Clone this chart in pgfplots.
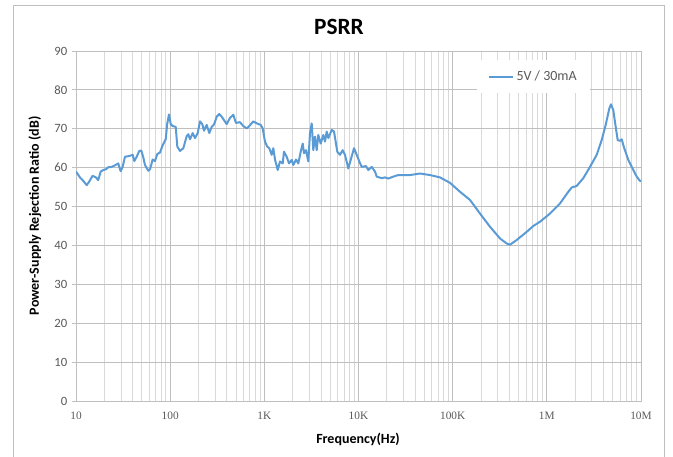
\documentclass[border=0pt]{standalone}
\usepackage{pgfplots}
\pgfplotsset{compat=1.18}
\usepackage{fontspec}
\setmainfont{Carlito}
\newfontfamily\serifx{Liberation Serif}
\definecolor{lineblue}{HTML}{5B9BD5}
\definecolor{txtgray}{HTML}{595959}
\definecolor{majgrid}{HTML}{BFBFBF}
\definecolor{mingrid}{HTML}{D9D9D9}
\begin{document}
\begin{tikzpicture}[x=1pt,y=1pt]
\useasboundingbox (0,0) rectangle (504.75,342);
\begin{axis}[
  at={(57pt,41.25pt)}, anchor=south west,
  scale only axis, width=423.75pt, height=262.5pt,
  xmode=log, xmin=10, xmax=1e7, ymin=0, ymax=90,
  xtick={10,100,1000,10000,100000,1000000,10000000},
  xticklabels={10,100,1K,10K,100K,1M,10M},
  ytick={0,10,...,90},
  /pgf/number format/assume math mode=true,
  xticklabel style={font=\serifx\fontsize{8.5}{10}\selectfont, text=txtgray, yshift=-2pt},
  yticklabel style={font=\fontsize{9.5}{11}\selectfont, text=txtgray},
  xmajorgrids, xminorgrids, ymajorgrids,
  major grid style={majgrid, line width=0.75pt},
  minor grid style={mingrid, line width=0.6pt},
  axis line style={majgrid, line width=0.75pt},
  xtick style={draw=none}, minor x tick style={draw=none},
  ytick style={majgrid, line width=0.75pt},
  ytick pos=left, tick align=outside, major tick length=3pt,
  title={PSRR},
  title style={at={(0.4655,1.0457)}, anchor=center, font=\bfseries\fontsize{17.5}{19}\selectfont, text=black},
  xlabel={Frequency(Hz)},
  xlabel style={at={(0.4991,-0.111)}, anchor=center, font=\bfseries\fontsize{10.5}{12}\selectfont, text=black},
  ylabel={Power-Supply Rejection Ratio (dB)},
  ylabel style={at={(-0.0726,0.529)}, anchor=center, rotate=0, font=\bfseries\fontsize{10.5}{12}\selectfont, text=black},
  legend style={at={(0.81,0.927)}, anchor=center, draw=none, fill=white,
    font=\fontsize{10.5}{12}\selectfont, text=txtgray, inner xsep=8pt, inner ysep=6pt},
  legend cell align=left,
  legend image code/.code={\draw[#1] (0pt,0pt) -- (18pt,0pt);},
]
\addplot[lineblue, line width=1.5pt, line join=round] table[row sep=\\] {
x y\\
10 59.0\\
11.0 57.5\\
11.95 56.6\\
13.0 55.5\\
13.8 56.4\\
15.0 57.9\\
16.3 57.5\\
17.2 56.8\\
18.3 59.0\\
19.5 59.4\\
20.8 59.6\\
22.0 60.1\\
23.9 60.2\\
25.9 60.6\\
28.1 61.1\\
29.8 59.1\\
31.3 60.2\\
33.1 62.8\\
36.8 63.0\\
40.0 63.3\\
41.6 61.7\\
44.1 62.8\\
47.0 64.3\\
49.4 64.4\\
51.8 62.7\\
54.0 60.7\\
58.6 59.2\\
61.1 59.6\\
65.2 62.1\\
69.0 61.7\\
73.0 63.5\\
78.0 63.9\\
83.3 65.8\\
89.7 67.3\\
93.2 71.4\\
97.2 73.7\\
101.3 71.2\\
106.4 70.7\\
114.5 70.5\\
119.1 65.4\\
127.2 64.3\\
137.9 65.0\\
149.8 68.1\\
155.8 68.6\\
162.4 67.3\\
173.5 68.9\\
183.5 67.6\\
196.0 68.9\\
207.4 71.9\\
219.4 71.2\\
228.7 69.5\\
244.3 71.0\\
260.3 68.9\\
276.1 70.5\\
292.1 71.1\\
311.9 73.1\\
332.4 73.8\\
352.5 73.1\\
398.4 71.2\\
431.8 72.8\\
468.1 73.6\\
500.1 71.5\\
551.3 71.7\\
597.9 70.7\\
649.6 70.1\\
692.2 70.7\\
763.6 71.9\\
829.8 71.4\\
915.3 71.0\\
960.7 70.1\\
1016 66.7\\
1075 65.4\\
1129 65.0\\
1197 63.3\\
1245 65.0\\
1298 62.1\\
1387 59.4\\
1467 61.6\\
1567 61.1\\
1618 64.1\\
1728 62.8\\
1828 61.1\\
1953 62.0\\
2030 60.7\\
2169 62.1\\
2295 61.1\\
2434 64.1\\
2556 66.2\\
2638 63.7\\
2770 64.5\\
2931 61.6\\
3054 68.9\\
3184 71.4\\
3311 64.5\\
3452 68.0\\
3599 64.5\\
3742 68.4\\
3967 66.2\\
4229 68.4\\
4408 66.7\\
4595 69.3\\
4779 67.6\\
5193 69.7\\
5493 69.3\\
5955 64.1\\
6361 63.3\\
6795 64.5\\
7189 63.3\\
7792 59.8\\
8264 62.0\\
8958 65.0\\
9570 63.3\\
10196 61.6\\
10815 60.2\\
12010 60.4\\
12710 59.4\\
13810 60.2\\
14970 59.0\\
15610 57.7\\
17640 57.3\\
19120 57.5\\
20730 57.2\\
23420 57.7\\
26470 58.1\\
35230 58.1\\
44980 58.5\\
57430 58.1\\
73340 57.5\\
93670 56.1\\
119600 53.8\\
152800 51.7\\
195100 48.2\\
249100 44.8\\
318100 41.8\\
374800 40.5\\
406300 40.2\\
478600 41.4\\
611100 43.5\\
718100 45.0\\
845900 46.1\\
1080000 48.2\\
1379000 50.8\\
1690000 53.8\\
1837000 54.9\\
2075000 55.3\\
2439000 57.3\\
2873000 60.2\\
3384000 63.3\\
3824000 67.1\\
4217000 71.0\\
4605000 75.2\\
4800000 76.3\\
5078000 74.8\\
5385000 70.5\\
5655000 67.1\\
5981000 66.9\\
6236000 67.3\\
6598000 65.2\\
7328000 62.0\\
8282000 59.4\\
8999000 57.7\\
9754000 56.6\\
10000000 56.5\\
};
\addlegendentry{5V / 30mA}
\end{axis}
\draw[majgrid, line width=0.75pt] (9.75,-5) -- (9.75,337.5) -- (498,337.5) -- (498,-5);
\end{tikzpicture}
\end{document}
